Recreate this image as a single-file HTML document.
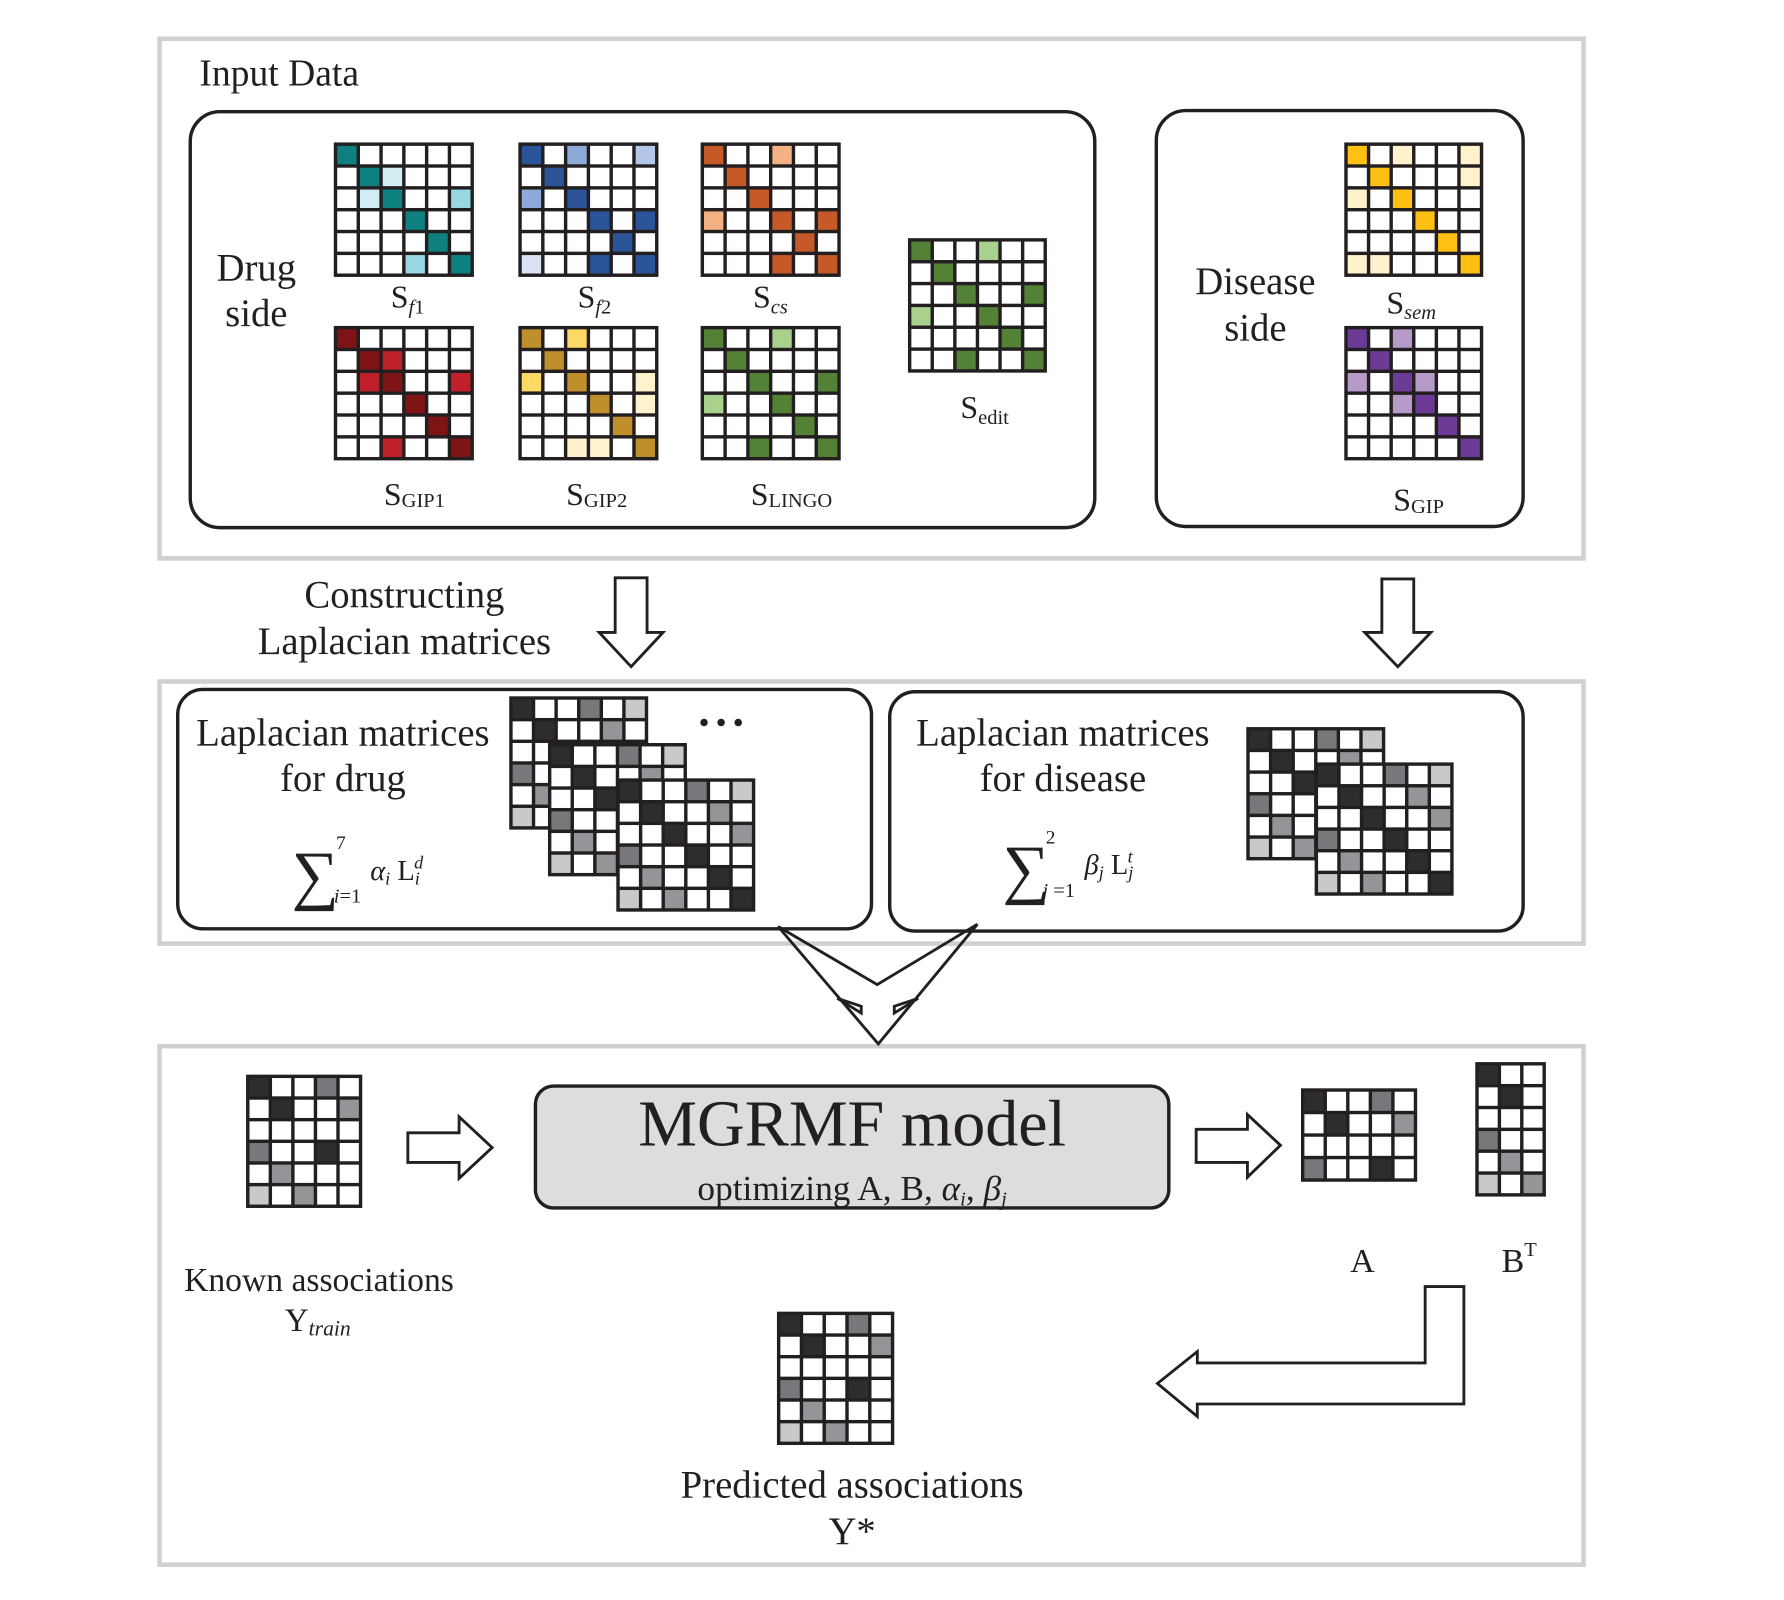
<!DOCTYPE html>
<html><head><meta charset="utf-8"><style>
html,body{margin:0;padding:0;background:#fff;}
svg{display:block;}
text{font-family:"Liberation Serif",serif;fill:#231f20;}
</style></head><body>
<svg id="s" width="1784" height="1600" viewBox="0 0 1566 1404" preserveAspectRatio="none" xmlns="http://www.w3.org/2000/svg">
<rect x="0" y="0" width="1566" height="1404" fill="#fff"/>
<g fill="none" stroke="#d0d0d0" stroke-width="4">
<rect x="140" y="34" width="1250" height="456"/>
<rect x="140" y="598" width="1250" height="230"/>
<rect x="140" y="918" width="1250" height="455"/>
</g>
<g fill="none" stroke="#231f20" stroke-width="3">
<rect x="167" y="98" width="794" height="365" rx="26"/>
<rect x="1015" y="97" width="322" height="365" rx="26"/>
<rect x="156" y="605" width="609" height="210" rx="22"/>
<rect x="781" y="607" width="556" height="210" rx="22"/>
</g>
<rect x="470" y="953" width="556" height="107" rx="16" fill="#dcdddf" stroke="#231f20" stroke-width="3"/>
<g id="grids"></g>
<g fill="#231f20"><circle cx="618" cy="634" r="3.3"/><circle cx="633" cy="634" r="3.3"/><circle cx="648" cy="634" r="3.3"/></g>
<g fill="#fff" stroke="#231f20" stroke-width="2.5">
<path d="M540,507 L568,507 L568,555 L582,555 L554,585 L526,555 L540,555 Z"/>
<path d="M1213,508 L1241,508 L1241,555 L1256,555 L1227,585 L1198,555 L1213,555 Z"/>
<path d="M358,994 L403,994 L403,980 L432,1007 L403,1034 L403,1020 L358,1020 Z"/>
<path d="M1050,991 L1095,991 L1095,978 L1124,1005 L1095,1033 L1095,1020 L1050,1020 Z"/>
<path d="M1251,1129 L1285,1129 L1285,1232 L1051,1232 L1051,1243 L1016,1214 L1051,1186 L1051,1196 L1251,1196 Z"/>
</g>
<g fill="none" stroke="#231f20" stroke-width="2.5" stroke-linejoin="miter">
<path d="M683,813 L770,864 L858,811"/>
<path d="M683,813 L771,916 L858,811"/>
<path d="M735,876 L756,883 L756,889 Z"/>
<path d="M806,876 L785,883 L785,889 Z"/>
</g>
<text x="175" y="75" font-size="33">Input Data</text>
<g text-anchor="middle">
<text x="225" y="246" font-size="34">Drug</text><text x="225" y="286" font-size="34">side</text>
<text x="1102" y="258" font-size="34">Disease</text><text x="1102" y="299" font-size="34">side</text>
<text x="355" y="533" font-size="34">Constructing</text><text x="355" y="574" font-size="34">Laplacian matrices</text>
<text x="301" y="654" font-size="34">Laplacian matrices</text><text x="301" y="694" font-size="34">for drug</text>
<text x="933" y="654" font-size="34">Laplacian matrices</text><text x="933" y="694" font-size="34">for disease</text>
<text x="748" y="1314" font-size="34">Predicted associations</text><text x="748" y="1355" font-size="34">Y*</text>
</g>
<g font-size="28">
<text x="343" y="270">S<tspan font-size="18" font-style="italic" dy="5">f</tspan><tspan font-size="18" dy="0">1</tspan></text>
<text x="507" y="270">S<tspan font-size="18" font-style="italic" dy="5">f</tspan><tspan font-size="18">2</tspan></text>
<text x="661" y="270">S<tspan font-size="18" font-style="italic" dy="5">cs</tspan></text>
<text x="337" y="443">S<tspan font-size="18" dy="2">GIP1</tspan></text>
<text x="497" y="443">S<tspan font-size="18" dy="2">GIP2</tspan></text>
<text x="659" y="443">S<tspan font-size="18" dy="2">LINGO</tspan></text>
<text x="843" y="367">S<tspan font-size="18" dy="5">edit</tspan></text>
<text x="1217" y="275">S<tspan font-size="18" font-style="italic" dy="5">sem</tspan></text>
<text x="1223" y="448">S<tspan font-size="18" dy="2">GIP</tspan></text>
</g>
<text x="256" y="787" font-size="58">∑</text>
<text x="295" y="745" font-size="17">7</text>
<text x="293" y="792" font-size="18"><tspan font-style="italic">i</tspan>=1</text>
<text x="325" y="772" font-size="25"><tspan font-style="italic">α</tspan><tspan font-size="16" font-style="italic" dy="4">i</tspan><tspan dy="-4"> L</tspan><tspan font-size="16" font-style="italic" dy="4">i</tspan><tspan font-size="16" font-style="italic" dx="-5" dy="-14">d</tspan></text>
<text x="880" y="782" font-size="58">∑</text>
<text x="918" y="740" font-size="17">2</text>
<text x="915" y="787" font-size="18"><tspan font-style="italic">j</tspan> =1</text>
<text x="952" y="767" font-size="25"><tspan font-style="italic">β</tspan><tspan font-size="16" font-style="italic" dy="4">j</tspan><tspan dy="-4"> L</tspan><tspan font-size="16" font-style="italic" dy="4">j</tspan><tspan font-size="16" font-style="italic" dx="-5" dy="-14">t</tspan></text>
<text x="748" y="1005" font-size="58" text-anchor="middle">MGRMF model</text>
<text x="748" y="1053" font-size="31" text-anchor="middle">optimizing A, B, <tspan font-style="italic">α</tspan><tspan font-size="18" font-style="italic" dy="5">i</tspan><tspan dy="-5">, </tspan><tspan font-style="italic">β</tspan><tspan font-size="18" font-style="italic" dy="5">j</tspan></text>
<text x="280" y="1133" font-size="29.5" text-anchor="middle">Known associations</text>
<text x="250" y="1168" font-size="29">Y<tspan font-size="19" font-style="italic" dy="4">train</tspan></text>
<text x="1196" y="1116" font-size="30" text-anchor="middle">A</text>
<text x="1318" y="1116" font-size="30">B<tspan font-size="18" dy="-14">T</tspan></text>
</svg>
<script>
var C={'.':'#fff',T:'#0e8080',t:'#d2edf4',m:'#97d8e3',B:'#2b5598',b:'#8eaad8',l:'#b5c7e8',v:'#dae3f3',
O:'#c55a28',o:'#f4b183',G:'#538135',g:'#a9d18e',R:'#7f1416',r:'#c0202a',Y:'#bf8f2b',y:'#ffd966',p:'#fff2cc',
S:'#ffc013',P:'#6b3b96',q:'#b69bc9',K:'#2e2c2c',M:'#77787b',N:'#939598',L:'#c8c9cb'};
var g=document.getElementById('grids'),ns='http://www.w3.org/2000/svg';
function R(x,y,w,h,f){var r=document.createElementNS(ns,'rect');r.setAttribute('x',x);r.setAttribute('y',y);r.setAttribute('width',w);r.setAttribute('height',h);r.setAttribute('fill',f);g.appendChild(r);}
function grid(x,y,w,h,d){var rows=d.split('|'),nr=rows.length,nc=rows[0].length,cw=(w-3)/nc,ch=(h-3)/nr;
R(x,y,w,h,'#231f20');for(var i=0;i<nr;i++)for(var j=0;j<nc;j++)R(x+3+j*cw,y+3+i*ch,cw-3,ch-3,C[rows[i][j]]);}
grid(293,125,123,118,'T.....|.Tt...|.tT..m|...T..|....T.|...m.T');
grid(455,125,123,118,'B.b..l|.B....|b.B...|...B.B|....B.|v..B.B');
grid(615,125,123,118,'O..o..|.O....|..O...|o..O.O|....O.|...O.O');
grid(293,286,123,118,'R.....|.Rr...|.rR..r|...R..|....R.|..r..R');
grid(455,286,123,118,'Y.y...|.Y....|y.Y..p|...Y.p|....Y.|..pp.Y');
grid(615,286,123,118,'G..g..|.G....|..G..G|g..G..|....G.|..G..G');
grid(797,209,122,118,'G..g..|.G....|..G..G|g..G..|....G.|..G..G');
grid(1180,125,122,118,'S.p..p|.S...p|p.S...|...S..|....S.|pp...S');
grid(1180,286,122,118,'P.q...|.P....|q.Pq..|..qP..|....P.|.....P');
var Lp='K..M.L|.K..N.|..K..N|M..K..|.N..K.|L.N..K';
grid(447,611,122,117,Lp);grid(481,652,122,117,Lp);grid(541,683,122,117,Lp);
grid(1094,638,122,117,Lp);grid(1154,669,122,117,Lp);
grid(1142,955,102,82,'K..M.|.K..N|.....|M..K.');
grid(1295,932,62,118,'K..|.K.|...|M..|.N.|L.N');
grid(216,943,102,117,'K..M.|.K..N|.....|M..K.|.N...|L.N..');
grid(682,1151,103,117,'K..M.|.K..N|.....|M..K.|.N...|L.N..');
</script>
</body></html>
